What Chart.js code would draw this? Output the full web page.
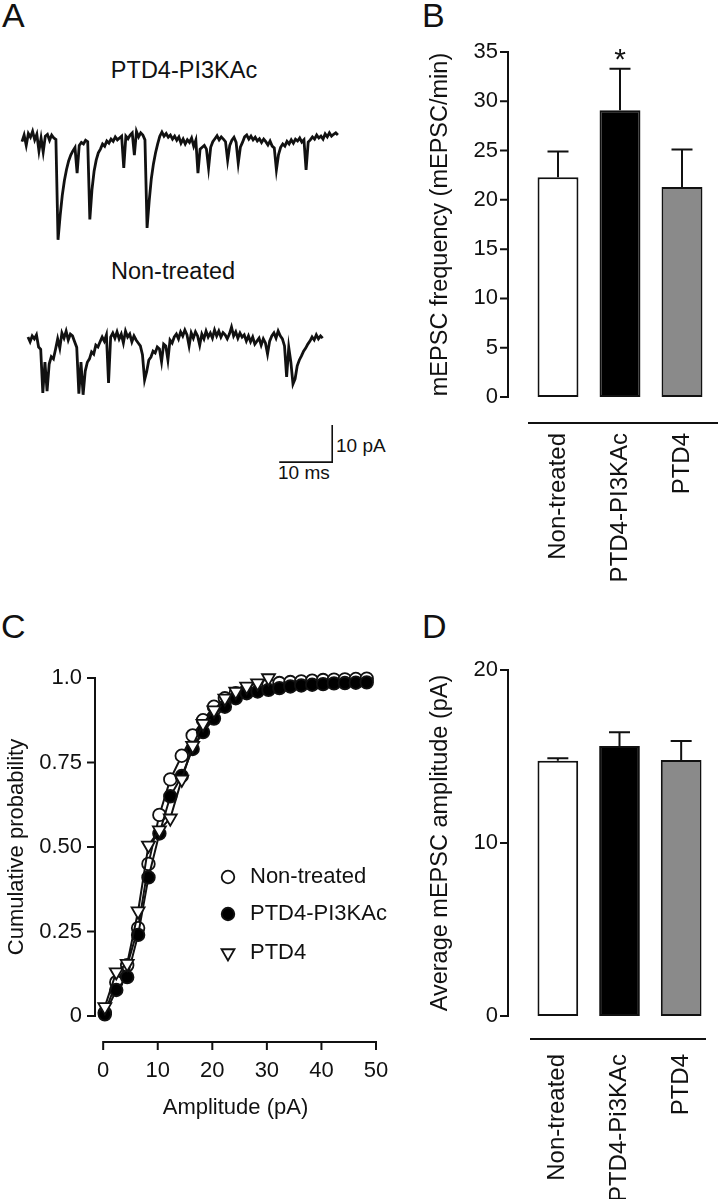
<!DOCTYPE html>
<html>
<head>
<meta charset="utf-8">
<script src="https://cdn.jsdelivr.net/npm/chart.js@4.4.0/dist/chart.umd.min.js"></script>
<style>
  body { margin: 0; background: #fff; }
  #fig { position: relative; width: 718px; height: 1199px; overflow: hidden;
         font-family: "Liberation Sans", Arial, sans-serif; color: #111; }
  #fig canvas { position: absolute; }
  .txt { position: absolute; white-space: nowrap; line-height: 1; }
  .letter { font-size: 34px; }
  .tlabel { font-size: 23.5px; transform: translateX(-50%); }
  .bar-note { font-size: 19px; }
</style>
</head>
<body>
<div id="fig">
  <div class="txt letter" style="left:2px;top:-2px">A</div>
  <div class="txt letter" style="left:422px;top:-2px">B</div>
  <div class="txt letter" style="left:1px;top:609px">C</div>
  <div class="txt letter" style="left:422px;top:609px">D</div>

  <div class="txt tlabel" style="left:184px;top:59px">PTD4-PI3KAc</div>
  <div class="txt tlabel" style="left:173px;top:260px">Non-treated</div>
  <div class="txt bar-note" style="left:336px;top:436px">10 pA</div>
  <div class="txt bar-note" style="left:278px;top:463px">10 ms</div>

  <canvas id="trace1" width="370" height="170" style="left:0;top:90px"></canvas>
  <canvas id="trace2" width="370" height="200" style="left:0;top:290px"></canvas>
  <canvas id="freqChart" width="338" height="590" style="left:380px;top:0"></canvas>
  <canvas id="cumChart" width="400" height="550" style="left:0;top:590px"></canvas>
  <canvas id="ampChart" width="338" height="609" style="left:380px;top:590px"></canvas>
</div>

<script>
// ---- data ----
const groups = ['Non-treated', 'PTD4-PI3KAc', 'PTD4'];
const groupsD = ['Non-treated', 'PTD4-Pi3KAc', 'PTD4'];
const barFill = ['#ffffff', '#000000', '#8a8a8a'];

const freqMean = [22.3, 29.1, 21.3];      // mEPSC/min
const freqSem = [2.6, 4.2, 3.8];
const freqTicks = [0, 5, 10, 15, 20, 25, 30, 35];
const sigMarks = ['', '*', ''];

const ampMean = [14.75, 15.6, 14.8];      // pA
const ampSem = [0.15, 0.8, 1.1];
const ampTicks = [0, 10, 20];

// cumulative probability vs amplitude (pA)
const amps = [0.3, 2.4, 4.4, 6.4, 8.3, 10.3, 12.3, 14.4, 16.4, 18.3, 20.3, 22.3, 24.3,
              26.3, 28.3, 30.3, 32.3, 34.3, 36.3, 38.3, 40.3, 42.3, 44.3, 46.3, 48.3];
const cumNonTreated = [0.01, 0.10, 0.15, 0.26, 0.45, 0.595, 0.70, 0.77, 0.83, 0.875, 0.915, 0.94, 0.955,
                       0.965, 0.975, 0.98, 0.985, 0.988, 0.99, 0.992, 0.994, 0.995, 0.996, 0.997, 0.998];
const cumPI3K = [0.005, 0.077, 0.115, 0.24, 0.41, 0.54, 0.65, 0.71, 0.79, 0.84, 0.88, 0.915, 0.94,
                 0.955, 0.96, 0.965, 0.97, 0.975, 0.978, 0.98, 0.982, 0.984, 0.985, 0.986, 0.987];
const cumPTD4 = [0.027, 0.13, 0.155, 0.31, 0.505, 0.55, 0.585, 0.70, 0.80, 0.865, 0.905, 0.94, 0.96,
                 0.975, 0.985, 1.0];
const ampAxisTicks = [0, 10, 20, 30, 40, 50];
const probTicks = [0, 0.25, 0.5, 0.75, 1.0];
const probLabels = ['0', '0.25', '0.50', '0.75', '1.0'];

// example mEPSC recordings, sampled every 0.4 ms (pA)
const sampleMs = 0.4;
const trace1PA = [
  -1.0, 0.8, -2.0, 1.2, 0.2, 1.8, -0.5, 1.0, -3.5, 0.0,
  -3.8, 0.5, 1.0, -0.6, 0.8, 0.0, -0.4, -27.5, -21.0, -15.5,
  -11.5, -8.5, -6.2, -4.6, -3.5, -2.6, -9.5, -2.0, -1.2, -1.6,
  -0.6, -1.0, -22.0, -14.0, -9.0, -6.0, -4.0, -3.0, -1.6, -2.2,
  -0.8, -1.4, -0.3, -0.9, 0.3, -0.5, 0.0, 0.5, -8.1, 0.5,
  -0.2, 0.8, 1.4, -4.6, 1.8, 0.3, 1.4, 0.8, -0.5, -24.3,
  -17.0, -11.0, -7.0, -4.0, -1.6, 0.5, 1.6, 0.5, 1.2, 0.2,
  0.8, -0.3, 0.5, -0.6, 0.3, -1.4, -0.3, -1.6, -0.5, -1.2,
  0.0, -2.2, -0.6, -9.5, -3.0, -2.5, -2.0, -3.0, -8.1, -2.5,
  -1.0, -0.2, 0.6, -0.5, 0.3, -0.3, -1.0, -6.0, -2.0, -0.6,
  0.2, -1.2, -6.8, -2.5, -1.2, 0.3, 0.8, -0.3, 0.5, -0.5,
  0.2, -0.8, -0.2, -1.2, -0.3, -1.0, -1.9, -0.8, -2.2, -2.7,
  -8.6, -4.5, -2.5, -1.6, -2.2, -0.9, -1.6, -0.5, -1.4, -0.3,
  -0.8, 0.0, -1.1, -0.5, -8.6, -1.1, -0.5, 0.3, -0.3, 0.8,
  0.0, 0.5, -0.3, 1.1, 0.3, 1.4, 0.5, 1.0, 1.4, 0.8
];
const trace2PA = [
  0.8, -0.5, 1.1, 0.3, 1.4, -1.9, -2.5, -14.3, -6.0, -13.8,
  -6.5, -4.5, -5.1, -2.5, 0.3, -2.2, 1.9, 0.5, 2.4, 0.0,
  1.6, 1.1, -0.5, -2.0, -14.5, -6.0, -14.8, -8.4, -6.0, -5.1,
  -3.2, -3.8, -1.4, -1.9, -0.5, 0.8, -0.3, 1.4, -11.6, 0.8,
  1.9, 0.5, 2.2, 0.3, 1.6, -0.8, 2.4, 0.8, 1.6, -0.5,
  1.1, 0.0, -0.8, -1.6, -4.0, -10.8, -8.5, -5.4, -4.6, -3.0,
  -3.5, -1.9, -2.4, -5.9, -1.1, -1.6, -5.4, 0.0, -0.8, 0.8,
  1.6, 0.3, 2.2, 1.1, 2.7, 1.4, -1.6, 1.9, 0.5, 2.2,
  1.1, -1.4, 1.6, 0.3, 2.4, 0.8, 1.9, 0.5, 2.7, 1.1,
  2.4, 0.8, 2.0, 1.4, 0.3, 1.6, 3.5, 1.1, 2.2, 0.5,
  1.9, 0.8, 1.4, -0.3, 1.1, -0.5, 0.8, -1.1, -0.3, 0.5,
  -1.4, 0.3, -0.8, -3.8, -0.3, 1.1, 1.9, 0.5, 2.4, 1.1,
  0.3, -1.6, -10.0, -2.0, -6.0, -11.9, -10.5, -7.0, -5.4, -4.3,
  -3.0, -2.2, -1.1, -0.3, 0.8, 0.0, 1.4, 0.3, 1.1, 0.5
];
const scaleBarMs = [47.4, 57.4, 57.4];
const scaleBarPA = [-33, -33, -23];

// ---- setup ----
Chart.defaults.font.family = '"Liberation Sans", Arial, sans-serif';
Chart.defaults.color = '#111';
Chart.defaults.animation = false;
Chart.defaults.events = [];
Chart.defaults.plugins.legend.display = false;
Chart.defaults.plugins.tooltip.enabled = false;

const ink = '#111';

// hidden grid, but its tick length is used to push labels away from the plot
const gapGrid = len => ({ display: false, drawTicks: true, tickLength: len });

// axis lines drawn away from the plot area, like the original figure
const detachedAxes = {
  id: 'detachedAxes',
  afterDraw(chart, args, opts) {
    const { ctx, chartArea } = chart;
    const xs = chart.scales.x, ys = chart.scales.y;
    ctx.save();
    ctx.strokeStyle = ink;
    ctx.lineWidth = opts.width;
    ctx.beginPath();
    const ax = chartArea.left - opts.yGap;
    const yv = ys.ticks.map(t => t.value);
    ctx.moveTo(ax, ys.getPixelForValue(yv[0]) + opts.width / 2);
    ctx.lineTo(ax, ys.getPixelForValue(yv[yv.length - 1]) - opts.width / 2);
    yv.forEach(v => {
      const p = ys.getPixelForValue(v);
      ctx.moveTo(ax, p);
      ctx.lineTo(ax - opts.tick, p);
    });
    const ly = chartArea.bottom + opts.xGap;
    let x0, x1;
    if (opts.xTicks) {
      const xv = xs.ticks.map(t => t.value);
      x0 = xs.getPixelForValue(xv[0]);
      x1 = xs.getPixelForValue(xv[xv.length - 1]);
      xv.forEach(v => {
        const p = xs.getPixelForValue(v);
        ctx.moveTo(p, ly);
        ctx.lineTo(p, ly + opts.tick);
      });
    } else {
      x0 = chartArea.left + opts.xFrom;
      x1 = chartArea.right + opts.xTo;
    }
    ctx.moveTo(x0 - opts.width / 2, ly);
    ctx.lineTo(x1 + opts.width / 2, ly);
    ctx.stroke();
    ctx.restore();
  }
};

const errorBars = {
  id: 'errorBars',
  afterDatasetsDraw(chart, args, opts) {
    const ctx = chart.ctx, ys = chart.scales.y;
    const ds = chart.data.datasets[0];
    const bars = chart.getDatasetMeta(0).data;
    ctx.save();
    ctx.strokeStyle = ink;
    ctx.lineWidth = opts.width;
    ctx.beginPath();
    bars.forEach((bar, i) => {
      const top = ys.getPixelForValue(ds.data[i] + opts.sem[i]);
      ctx.moveTo(bar.x, bar.y);
      ctx.lineTo(bar.x, top);
      ctx.moveTo(bar.x - opts.cap, top);
      ctx.lineTo(bar.x + opts.cap, top);
    });
    ctx.stroke();
    if (opts.marks) {
      ctx.fillStyle = ink;
      ctx.font = opts.markFont;
      ctx.textAlign = 'center';
      ctx.textBaseline = 'alphabetic';
      bars.forEach((bar, i) => {
        if (!opts.marks[i]) return;
        const top = ys.getPixelForValue(ds.data[i] + opts.sem[i]);
        ctx.fillText(opts.marks[i], bar.x, top - opts.markGap);
      });
    }
    ctx.restore();
  }
};

const sideLegend = {
  id: 'sideLegend',
  afterDraw(chart, args, opts) {
    const ctx = chart.ctx;
    ctx.save();
    ctx.font = opts.font;
    ctx.textBaseline = 'middle';
    ctx.textAlign = 'left';
    chart.data.datasets.forEach((ds, i) => {
      const y = opts.rows[i];
      ctx.fillStyle = ds.pointBackgroundColor;
      ctx.strokeStyle = ds.pointBorderColor;
      ctx.lineWidth = ds.pointBorderWidth;
      Chart.helpers.drawPoint(ctx, {
        pointStyle: ds.pointStyle, rotation: ds.pointRotation || 0,
        radius: ds.pointRadius, borderWidth: ds.pointBorderWidth
      }, opts.markerX, y);
      ctx.fillStyle = ink;
      ctx.fillText(ds.label, opts.textX, y);
    });
    ctx.restore();
  }
};

// ---- A: traces ----
function traceChart(id, values, yMin, yMax, tMin, tMax, extra) {
  const datasets = [{
    data: values.map((v, i) => ({ x: i * sampleMs, y: v })),
    borderColor: ink, borderWidth: 2.8, pointRadius: 0, tension: 0
  }];
  if (extra) datasets.push(extra);
  return new Chart(document.getElementById(id), {
    type: 'line',
    data: { datasets },
    options: {
      responsive: false,
      layout: { padding: 0 },
      scales: {
        x: { type: 'linear', display: false, min: tMin, max: tMax },
        y: { display: false, min: yMin, max: yMax }
      }
    }
  });
}

traceChart('trace1', trace1PA, -32.97, 12.97, -4.15, 65.66);
traceChart('trace2', trace2PA, -40.54, 13.51, -5.28, 64.53, {
  data: scaleBarMs.map((t, i) => ({ x: t, y: scaleBarPA[i] })),
  borderColor: ink, borderWidth: 1.6, pointRadius: 0, tension: 0
});

// ---- B and D: bar charts ----
function barChart(id, labels, means, sems, ticks, yMax, opts) {
  return new Chart(document.getElementById(id), {
    type: 'bar',
    data: {
      labels,
      datasets: [{
        data: means, backgroundColor: barFill, borderColor: ink,
        borderWidth: 2, borderSkipped: false,
        categoryPercentage: 1, barPercentage: 0.66
      }]
    },
    options: {
      responsive: false,
      layout: { padding: { top: opts.padTop, right: opts.padRight, left: 0, bottom: 0 } },
      plugins: {
        errorBars: { sem: sems, width: 2, cap: 10.5, marks: opts.marks, markFont: '30px "Liberation Sans", Arial', markGap: 0 },
        detachedAxes: { width: 2, yGap: 19, tick: 8, xGap: opts.xGap, xFrom: opts.xFrom, xTo: opts.xTo }
      },
      scales: {
        x: {
          grid: gapGrid(opts.labelPad), border: { display: false },
          ticks: { minRotation: 90, maxRotation: 90, autoSkip: false, padding: 0, font: { size: 24 } },
          afterFit: s => { s.height = opts.xHeight; }
        },
        y: {
          min: 0, max: yMax,
          grid: gapGrid(29), border: { display: false },
          ticks: { padding: 0, font: { size: 22 } },
          afterBuildTicks: s => { s.ticks = ticks.map(v => ({ value: v })); },
          afterFit: s => { s.width = 147; },
          title: { display: true, text: opts.title, font: { size: 23.5 }, padding: { top: 46, bottom: 0 } }
        }
      }
    },
    plugins: [errorBars, detachedAxes]
  });
}

barChart('freqChart', groups, freqMean, freqSem, freqTicks, 35, {
  padTop: 52, padRight: 5, xHeight: 193, labelPad: 36, xGap: 26, xFrom: 2, xTo: 5,
  marks: sigMarks, title: 'mEPSC frequency (mEPSC/min)'
});

barChart('ampChart', groupsD, ampMean, ampSem, ampTicks, 20, {
  padTop: 80, padRight: 6, xHeight: 183, labelPad: 38, xGap: 23, xFrom: 4, xTo: -7,
  marks: null, title: 'Average mEPSC amplitude (pA)'
});

// ---- C: cumulative distributions ----
const cumSeries = [
  { label: 'Non-treated', values: cumNonTreated, style: 'circle', fill: '#ffffff', radius: 6.3, rot: 0, order: 3 },
  { label: 'PTD4-PI3KAc', values: cumPI3K, style: 'circle', fill: '#000000', radius: 6.3, rot: 0, order: 2 },
  { label: 'PTD4', values: cumPTD4, style: 'triangle', fill: '#ffffff', radius: 7.5, rot: 180, order: 1 }
];

new Chart(document.getElementById('cumChart'), {
  type: 'line',
  data: {
    datasets: cumSeries.map(s => ({
      label: s.label,
      data: s.values.map((p, i) => ({ x: amps[i], y: p })),
      borderColor: ink, borderWidth: 2, tension: 0,
      pointStyle: s.style, pointRadius: s.radius, pointRotation: s.rot,
      pointBackgroundColor: s.fill, pointBorderColor: ink, pointBorderWidth: 1.8,
      order: s.order, clip: false
    }))
  },
  options: {
    responsive: false,
    layout: { padding: { top: 88, right: 24, left: 0, bottom: 0 } },
    plugins: {
      detachedAxes: { width: 2, yGap: 0, tick: 8, xGap: 26, xTicks: true },
      sideLegend: { font: '22px "Liberation Sans", Arial', markerX: 228, textX: 250, rows: [287, 324, 363] }
    },
    scales: {
      x: {
        type: 'linear', min: -1.5, max: 50,
        grid: gapGrid(42), border: { display: false },
        ticks: { padding: 0, autoSkip: false, maxRotation: 0, font: { size: 22 } },
        afterBuildTicks: s => { s.ticks = ampAxisTicks.map(v => ({ value: v })); },
        afterFit: s => { s.height = 124; },
        title: { display: true, text: 'Amplitude (pA)', font: { size: 22 }, padding: { top: 0, bottom: 19 } }
      },
      y: {
        min: 0, max: 1,
        grid: gapGrid(13), border: { display: false },
        ticks: { padding: 0, font: { size: 22 }, callback: (v, i) => probLabels[i] },
        afterBuildTicks: s => { s.ticks = probTicks.map(v => ({ value: v })); },
        afterFit: s => { s.width = 95; },
        title: { display: true, text: 'Cumulative probability', font: { size: 22 }, padding: { top: 4, bottom: 0 } }
      }
    }
  },
  plugins: [detachedAxes, sideLegend]
});
</script>
</body>
</html>
